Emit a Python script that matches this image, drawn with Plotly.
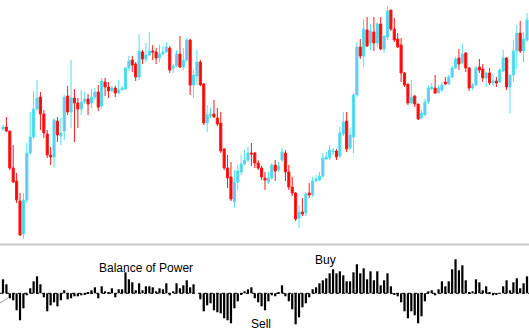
import plotly.graph_objects as go

# ---- price candles (arbitrary price units) ----
opens = [111,113,109,72,59,39,6,40,87,103,131,143,126,106,85,83,119,104,109,144,
         128,142,137,131,138,141,137,143,148,134,158,153,149,152,147,150,151,172,180,176,
         163,188,181,185,189,188,182,186,188,192,172,174,186,173,180,200,155,164,178,156,
         117,124,126,122,117,91,72,63,38,58,68,76,80,87,87,77,72,62,58,62,
         75,70,80,87,68,53,47,22,28,27,47,45,59,60,64,81,82,88,89,84,
         106,119,92,103,145,193,184,210,197,208,197,216,191,203,230,211,201,195,167,156,
         137,144,136,122,125,138,151,152,147,150,158,156,163,172,182,177,187,172,152,155,
         173,171,162,167,157,159,158,169,182,153,165,189,207,189,200]
highs = [115,123,109,95,67,47,47,97,128,149,160,148,130,110,93,122,123,122,145,154,
         180,151,142,150,148,146,151,152,155,162,162,158,154,154,160,154,173,184,184,178,
         206,190,197,208,195,192,195,194,198,194,176,190,204,192,202,201,170,190,180,157,
         135,132,140,132,128,92,85,78,70,75,85,90,93,97,88,80,74,68,68,77,
         80,78,92,90,75,63,48,35,42,48,57,63,65,68,87,88,95,92,91,113,
         128,128,112,147,198,201,221,223,216,223,218,223,204,234,230,222,207,202,168,156,
         160,145,136,130,141,155,157,165,155,158,163,165,174,183,191,196,188,173,157,174,
         181,176,168,172,165,163,172,190,183,165,200,215,219,208,227]
lows = [109,108,70,57,37,4,1,37,85,101,129,110,102,82,75,72,98,95,100,125,
        112,98,112,125,136,125,132,140,129,132,144,142,148,143,146,150,150,169,168,159,
        160,176,178,184,180,176,178,185,187,167,167,173,172,170,178,145,142,155,154,115,
        108,122,122,114,87,70,52,39,32,50,65,75,78,74,72,70,60,50,56,60,
        59,68,78,59,50,44,19,12,24,24,42,43,58,59,62,80,80,85,80,82,
        104,88,90,87,143,181,173,193,190,189,193,190,187,200,209,198,192,158,153,135,
        136,133,120,121,124,136,150,146,147,148,155,155,162,171,170,176,168,149,150,154,
        167,158,153,155,154,153,157,168,150,127,158,171,187,178,198]
closes = [113,109,72,58,40,5,40,87,103,131,142,126,107,85,83,120,105,107,143,128,
          142,137,131,138,141,136,143,148,133,159,153,149,152,147,150,152,172,179,175,163,
          189,181,185,189,188,182,186,188,193,170,174,186,173,180,200,155,165,178,155,117,
          125,126,123,116,89,72,62,41,58,69,76,80,87,86,77,72,63,60,62,75,
          69,74,88,68,53,47,21,28,26,46,45,59,61,64,82,83,90,89,83,107,
          118,91,105,145,193,184,211,194,209,197,216,191,204,229,211,200,193,167,155,137,
          143,136,121,127,138,152,153,147,152,155,156,163,172,181,176,186,172,152,155,172,
          170,162,167,157,159,157,170,182,153,165,189,207,189,201,220]

# ---- Balance of Power histogram ----
bop = [14,9,-5,-7,-17,-27,-15,-2,5,12,17,9,-4,-18,-12,-9,-13,-7,3,-6,
       -5,-3,-3,-2,-1,1,3,6,-5,7,2,1,5,-4,4,4,21,14,11,3,
       10,3,7,7,6,2,5,4,10,-2,2,10,5,8,13,6,9,0,-6,-18,
       -12,-10,-17,-19,-20,-25,-27,-30,-15,-8,-1,2,4,6,-5,-9,-13,-17,-8,-2,
       -3,1,8,-3,-8,-16,-31,-24,-14,-10,-4,4,6,10,13,15,20,24,20,22,
       18,12,12,21,29,20,25,14,22,13,22,8,13,20,7,-1,-3,-9,-18,-25,
       -18,-22,-30,-23,-8,2,3,-2,4,12,7,12,24,34,23,28,13,1,2,14,
       11,3,7,1,-2,-1,0,7,13,3,11,15,5,10,17]

idx = list(range(len(opens)))

W, H = 529, 336
fig = go.Figure()

fig.add_trace(go.Candlestick(
    x=idx, open=opens, high=highs, low=lows, close=closes,
    increasing=dict(line=dict(color="#4FE0EE", width=1), fillcolor="#72BDF2"),
    decreasing=dict(line=dict(color="#FF1A1A", width=1), fillcolor="#FF0000"),
    whiskerwidth=0, xaxis="x", yaxis="y", showlegend=False, hoverinfo="skip"))

fig.add_trace(go.Bar(
    x=idx, y=bop, marker=dict(color="#000000", line=dict(width=0)),
    xaxis="x", yaxis="y2", showlegend=False, hoverinfo="skip"))

px = 524 / 154.0
x0 = -3 / px
x1 = x0 + W / px

sep_y = (H - 244.5) / H

fig.update_layout(
    width=W, height=H,
    margin=dict(l=0, r=0, t=0, b=0),
    paper_bgcolor="white", plot_bgcolor="white",
    bargap=0.35, boxgap=0.1,
    xaxis=dict(range=[x0, x1], visible=False, rangeslider=dict(visible=False),
               showgrid=False, zeroline=False),
    yaxis=dict(domain=[(H - 242) / H, 1], range=[-2, 240], visible=False,
               showgrid=False, zeroline=False),
    yaxis2=dict(domain=[0, (H - 246) / H], range=[-42.7, 47.3], visible=False,
                showgrid=False, zeroline=False),
    shapes=[
        dict(type="line", xref="paper", yref="paper", x0=0, x1=1, y0=sep_y, y1=sep_y,
             line=dict(color="#C8C8C8", width=2)),
        dict(type="line", xref="paper", yref="y2", x0=0, x1=1, y0=0, y1=0,
             line=dict(color="#000000", width=1, dash="dot"), layer="below"),
        dict(type="line", xref="paper", yref="paper", x0=0, x1=8 / W,
             y0=(H - 303) / H, y1=(H - 298) / H, line=dict(color="#999999", width=1)),
    ],
    annotations=[
        dict(text="Balance of Power", xref="paper", yref="paper",
             x=145.5 / W, y=(H - 268) / H, xanchor="center", yanchor="middle",
             showarrow=False, font=dict(family="Arial, Liberation Sans", size=12, color="#000")),
        dict(text="Buy", xref="paper", yref="paper",
             x=325 / W, y=(H - 260) / H, xanchor="center", yanchor="middle",
             showarrow=False, font=dict(family="Arial, Liberation Sans", size=12, color="#000")),
        dict(text="Sell", xref="paper", yref="paper",
             x=261 / W, y=(H - 324) / H, xanchor="center", yanchor="middle",
             showarrow=False, font=dict(family="Arial, Liberation Sans", size=12, color="#000")),
    ],
)

fig.write_html("out.html")
